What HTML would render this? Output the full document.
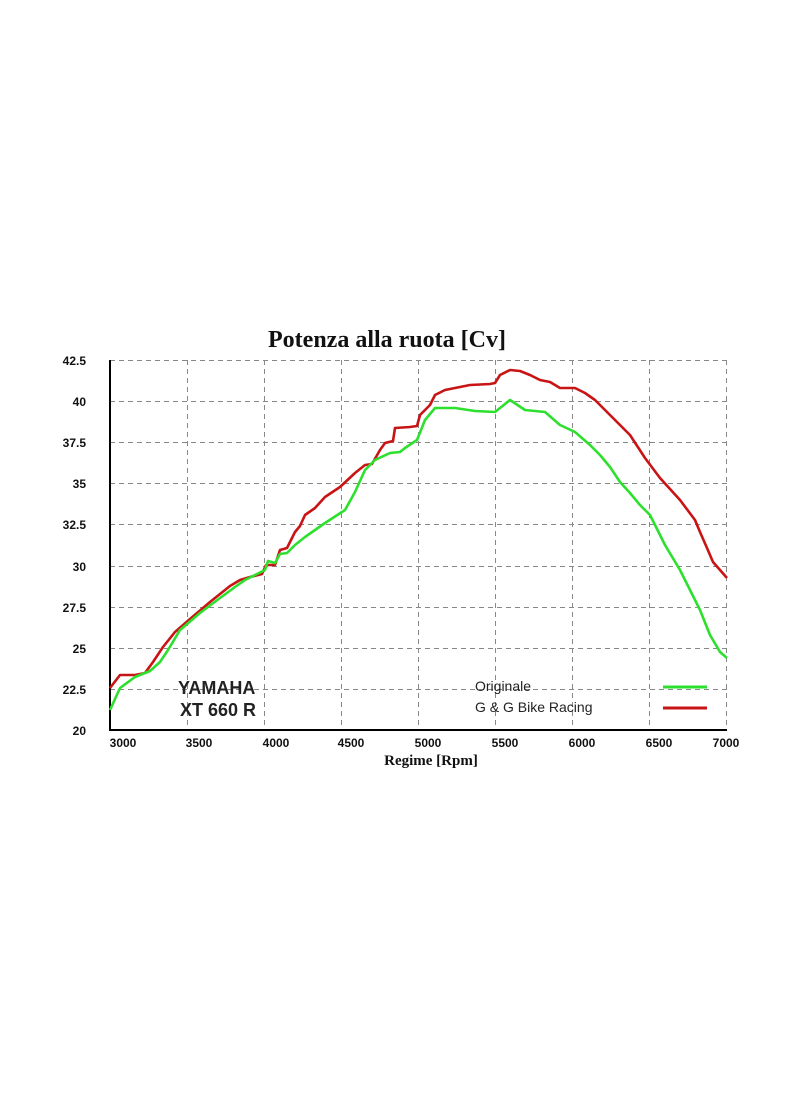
<!DOCTYPE html>
<html><head><meta charset="utf-8"><style>
html,body{margin:0;padding:0;background:#fff;}
svg{display:block;}
</style></head><body>
<svg width="800" height="1096" viewBox="0 0 800 1096" xmlns="http://www.w3.org/2000/svg">
<rect width="800" height="1096" fill="#fff"/>
<text x="387" y="347" font-family="Liberation Serif, serif" font-weight="bold" font-size="24" text-anchor="middle" fill="#111">Potenza alla ruota  [Cv]</text>
<g stroke="#888" stroke-width="1" stroke-dasharray="5,4" fill="none">
<line x1="110" y1="360.5" x2="727" y2="360.5"/>
<line x1="110" y1="401.5" x2="727" y2="401.5"/>
<line x1="110" y1="442.5" x2="727" y2="442.5"/>
<line x1="110" y1="483.5" x2="727" y2="483.5"/>
<line x1="110" y1="524.5" x2="727" y2="524.5"/>
<line x1="110" y1="566.5" x2="727" y2="566.5"/>
<line x1="110" y1="607.5" x2="727" y2="607.5"/>
<line x1="110" y1="648.5" x2="727" y2="648.5"/>
<line x1="110" y1="689.5" x2="727" y2="689.5"/>
<line x1="187.5" y1="360" x2="187.5" y2="730"/>
<line x1="264.5" y1="360" x2="264.5" y2="730"/>
<line x1="341.5" y1="360" x2="341.5" y2="730"/>
<line x1="418.5" y1="360" x2="418.5" y2="730"/>
<line x1="495.5" y1="360" x2="495.5" y2="730"/>
<line x1="572.5" y1="360" x2="572.5" y2="730"/>
<line x1="649.5" y1="360" x2="649.5" y2="730"/>
<line x1="726.5" y1="360" x2="726.5" y2="730"/>
</g>
<line x1="110" y1="360" x2="110" y2="731" stroke="#000" stroke-width="2"/>
<line x1="109" y1="730" x2="727" y2="730" stroke="#000" stroke-width="2"/>
<g font-family="Liberation Sans, sans-serif" font-weight="bold" font-size="12" fill="#111" text-anchor="end">
<text x="86" y="365">42.5</text><text x="86" y="406">40</text><text x="86" y="447">37.5</text>
<text x="86" y="488">35</text><text x="86" y="529">32.5</text><text x="86" y="571">30</text>
<text x="86" y="612">27.5</text><text x="86" y="653">25</text><text x="86" y="694">22.5</text>
<text x="86" y="735">20</text>
</g>
<g font-family="Liberation Sans, sans-serif" font-weight="bold" font-size="12" fill="#111" text-anchor="middle">
<text x="123" y="747">3000</text><text x="199" y="747">3500</text><text x="276" y="747">4000</text>
<text x="351" y="747">4500</text><text x="428" y="747">5000</text><text x="505" y="747">5500</text>
<text x="582" y="747">6000</text><text x="659" y="747">6500</text><text x="726" y="747">7000</text>
</g>
<text x="431" y="765" font-family="Liberation Serif, serif" font-weight="bold" font-size="15" text-anchor="middle" fill="#111">Regime [Rpm]</text>
<g font-family="Liberation Sans, sans-serif" font-weight="bold" font-size="18" fill="#222">
<text x="178" y="694">YAMAHA</text><text x="180" y="716">XT 660 R</text>
</g>
<g font-family="Liberation Sans, sans-serif" font-size="14" fill="#222">
<text x="475" y="691">Originale</text><text x="475" y="712">G &amp; G Bike Racing</text>
</g>
<line x1="663" y1="687" x2="707" y2="687" stroke="#2ee02e" stroke-width="3"/>
<line x1="663" y1="708" x2="707" y2="708" stroke="#c81414" stroke-width="3"/>
<polyline fill="none" stroke="#c81414" stroke-width="2.6" stroke-linejoin="round" points="110,688 120,675 135,675 145,673 153,662 163,647 175,632 190,619 210,602 230,586 240,580 250,577 262,574 266,565 275,565 280,550 287,548 295,532 300,526 305,515 315,508 325,497 340,487 355,473 365,465 372,464 380,450 385,443 393,441 395,428 410,427 417,426 420,415 430,405 435,395 445,390 470,385 490,384 495,383 500,375 510,370 520,371 530,375 540,380 550,382 560,388 575,388 585,393 595,400 605,410 615,420 630,435 645,458 660,478 680,500 695,520 700,532 707,548 713,562 720,570 727,578"/>
<polyline fill="none" stroke="#2ee02e" stroke-width="2.6" stroke-linejoin="round" points="110,710 120,688 135,677 150,671 160,662 168,650 180,630 200,613 220,598 235,587 245,580 255,575 265,570 268,561 275,563 280,554 287,553 295,545 305,537 315,530 325,523 345,510 355,492 365,470 375,460 390,453 400,452 405,448 417,440 425,420 435,408 455,408 475,411 495,412 510,400 525,410 545,412 560,425 575,432 590,445 600,455 610,467 620,482 630,493 640,505 650,515 665,545 680,570 690,590 700,610 710,635 720,652 727,658"/>
</svg>
</body></html>
